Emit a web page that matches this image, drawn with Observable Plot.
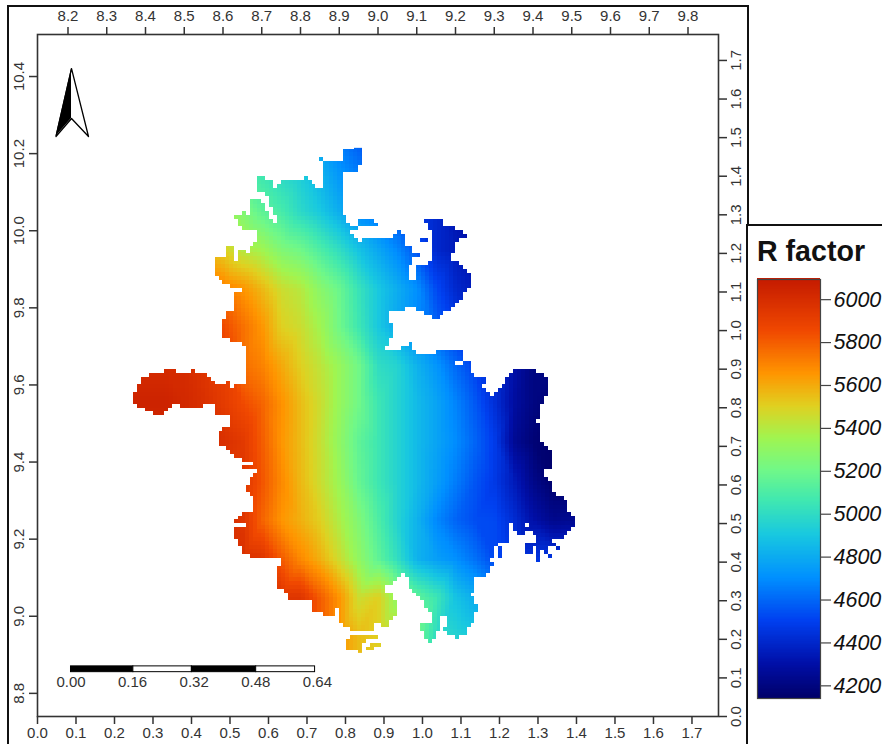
<!DOCTYPE html>
<html><head><meta charset="utf-8">
<script src="https://cdn.jsdelivr.net/npm/d3@7"></script>
<script src="https://cdn.jsdelivr.net/npm/@observablehq/plot@0.6"></script>
<style>
html,body{margin:0;padding:0;background:#fff}
#wrap{position:relative;width:882px;height:744px;overflow:hidden;font-family:"Liberation Sans",Arial,sans-serif}
#wrap svg{position:absolute;left:0;top:0;background:transparent}
.ln{position:absolute;background:#111}
</style></head><body>
<div id="wrap">
<div id="title" style="position:absolute;left:757px;top:234px;font-size:28.6px;font-weight:bold;color:#111;line-height:34px;z-index:3">R factor</div>
<div class="ln" style="left:7px;top:5px;width:740px;height:2px"></div>
<div class="ln" style="left:7px;top:5px;width:2px;height:739px"></div>
<div class="ln" style="left:747px;top:5px;width:1.5px;height:219px"></div>
<div class="ln" style="left:746px;top:224px;width:1.5px;height:520px"></div>
<div class="ln" style="left:746px;top:224px;width:136px;height:1.5px"></div>
</div>
<script>
// ---- chart extent (degrees) ----
const lonLeft = 8.1213, lonRight = 9.8787, latBottom = 8.740, latTop = 10.509;

// ---- axes ----
const topTicks = [8.2,8.3,8.4,8.5,8.6,8.7,8.8,8.9,9.0,9.1,9.2,9.3,9.4,9.5,9.6,9.7,9.8];
const leftTicks = [8.8,9.0,9.2,9.4,9.6,9.8,10.0,10.2,10.4];
const bottomTicks = [0,0.1,0.2,0.3,0.4,0.5,0.6,0.7,0.8,0.9,1.0,1.1,1.2,1.3,1.4,1.5,1.6,1.7];
const rightTicks = [0,0.1,0.2,0.3,0.4,0.5,0.6,0.7,0.8,0.9,1.0,1.1,1.2,1.3,1.4,1.5,1.6,1.7];
const kmX = 0.9935, kmY = 1.001;   // axis distance units to degrees

// ---- R factor colour ramp ----
const rampValues = [4141,4300,4500,4700,4900,5060,5200,5350,5500,5650,5850,6094];
const rampColors = ["#00006a","#000fa8","#0040f0","#0090ff","#18c8e0","#40e8b0","#70f888","#a0f550","#e0d020","#ff9500","#f04800","#c41a00"];
const legendTicks = [4200,4400,4600,4800,5000,5200,5400,5600,5800,6000];

// ---- R factor samples ----
const sampleLons = [8.35,8.40,8.45,8.50,8.55,8.60,8.65,8.70,8.75,8.80,8.85,8.90,8.95,9.00,9.05,9.10,9.15,9.20,9.25,9.30,9.35,9.40,9.45,9.50,9.55];
const sampleLats = [10.25,10.15,10.05,9.95,9.85,9.75,9.65,9.55,9.45,9.35,9.25,9.15,9.05,8.95,8.85];
const rLat1025 = [5300,5300,5300,5250,5200,5150,5100,5050,5000,4920,4780,4640,4550,4500,4450,4400,4350,4300,4300,4300,4300,4300,4300,4300,4300];
const rLat1015 = [5350,5350,5300,5300,5250,5200,5100,5050,4980,4920,4820,4720,4650,4560,4480,4420,4380,4350,4300,4300,4300,4300,4300,4300,4300];
const rLat1005 = [5500,5500,5450,5450,5400,5350,5250,5150,5080,4980,4900,4800,4680,4620,4550,4480,4400,4320,4300,4300,4300,4300,4300,4300,4300];
const rLat995  = [5650,5650,5600,5600,5550,5500,5400,5350,5250,5200,5100,5000,4880,4780,4680,4550,4400,4350,4300,4250,4250,4250,4250,4250,4250];
const rLat985  = [5800,5800,5800,5750,5750,5700,5650,5560,5450,5400,5280,5180,5030,4900,4800,4700,4520,4400,4350,4300,4250,4250,4250,4250,4250];
const rLat975  = [5950,5950,5900,5900,5880,5850,5750,5650,5500,5450,5350,5200,5050,4900,4780,4680,4580,4480,4400,4350,4300,4250,4200,4200,4200];
const rLat965  = [6000,6000,6000,6000,5950,5900,5750,5700,5600,5500,5420,5320,5200,5000,4950,4820,4720,4600,4500,4400,4300,4200,4200,4150,4150];
const rLat955  = [6050,6050,6050,6020,5980,5920,5850,5780,5660,5550,5450,5320,5200,5050,4950,4850,4770,4670,4560,4430,4280,4200,4160,4150,4150];
const rLat945  = [6000,6000,6000,6000,6000,5980,5930,5800,5650,5550,5440,5300,5150,5050,4950,4850,4770,4690,4590,4480,4250,4170,4150,4150,4150];
const rLat935  = [6000,6000,6000,6000,6000,5950,5950,5820,5680,5560,5450,5330,5170,5050,4950,4850,4750,4650,4550,4470,4350,4220,4150,4150,4150];
const rLat925  = [6000,6000,6000,6000,6000,6000,5950,5780,5650,5580,5500,5380,5250,5100,4950,4820,4680,4590,4530,4520,4420,4300,4230,4240,4250];
const rLat915  = [6000,6000,6000,6000,6000,6000,5980,5950,5800,5680,5580,5450,5300,5150,5000,4820,4750,4700,4620,4520,4450,4450,4450,4450,4450];
const rLat905  = [6000,6000,6000,6000,6000,6000,6000,6000,5950,5950,5800,5650,5450,5500,5300,5150,5050,4880,4800,4700,4700,4700,4700,4700,4700];
const rLat895  = [6000,6000,6000,6000,6000,6000,6000,6000,6000,5950,5800,5650,5550,5500,5450,5200,5000,4950,4900,4900,4900,4900,4900,4900,4900];
const rLat885  = [6000,6000,6000,6000,6000,6000,6000,6000,6000,5950,5800,5650,5550,5500,5450,5200,5000,4950,4900,4900,4900,4900,4900,4900,4900];
const sampleRows = [rLat1025,rLat1015,rLat1005,rLat995,rLat985,rLat975,rLat965,rLat955,rLat945,rLat935,rLat925,rLat915,rLat905,rLat895,rLat885];

// ---- land cells per row: [lat*100, lonStart*100, lonEnd*100, lonStart*100, lonEnd*100, ...] ----
const landRows = [
[1021,894,896],[1020,891,896],[1019,891,896],[1018,885,886,891,896],[1017,886,896],[1016,886,895],[1015,886,895],[1014,886,891],
[1013,869,871,881,882,886,891],[1012,869,873,875,883,886,891],[1011,869,873,874,884,886,891],[1010,869,891],[1009,871,891],[1008,872,891],
[1007,867,870,872,891],[1006,867,871,872,891],[1005,867,871,873,891],[1004,865,866,867,872,873,891],[1003,863,872,874,892],
[1002,864,873,874,892,895,899,912,917],[1001,864,893,895,900,913,917],[1000,865,895,913,920],[999,869,893,905,906,914,922],
[998,869,894,904,907,914,923],[997,869,895,896,907,911,913,914,921],[996,868,907,914,920],[995,861,863,867,909,914,920],
[994,861,863,864,866,867,909,914,920],[993,861,863,864,911,914,919],[992,858,863,864,909,914,919],[991,858,909,913,921],
[990,858,908,910,922],[989,858,908,910,923],[988,858,908,910,924],[987,859,908,910,924],[986,860,924],[985,862,924],[984,865,923],
[983,863,922],[982,863,922],[981,863,921],[980,863,920],[979,863,907,910,919],[978,861,903,912,917],[977,861,903,914,916],
[976,860,903],[975,860,904],[974,860,904],[973,860,904],[972,860,904],[971,862,903],[970,865,903,908,909],[969,866,902,906,909],
[968,866,910,915,922],[967,866,922],[966,866,922],[965,866,920,922,924],[964,866,924],[963,845,848,852,853,866,924,935,941],
[962,841,856,866,925,934,943],[961,839,857,866,928,933,944],[960,839,858,861,862,866,928,933,944],[959,838,862,863,927,932,944],
[958,838,928,931,944],[957,837,929,930,944],[956,837,943],[955,837,943],[954,838,847,849,855,858,942],[953,840,846,858,942],
[952,842,845,858,942],[951,862,942],[950,862,941],[949,862,942],[948,860,942],[947,859,942],[946,859,942],[945,859,942],[944,859,943],
[943,861,944],[942,862,945],[941,863,945],[940,865,945],[939,868,945],[938,865,945],[937,869,943],[936,868,943],[935,867,944],
[934,867,945],[933,866,945],[932,866,945],[931,867,946],[930,868,948],[929,868,949],[928,868,949],[927,868,949],[926,865,950],
[925,864,951],[924,863,951],[923,866,934,935,938,939,951],[922,863,934,935,950],[921,863,934,936,938,940,949],[920,863,934,941,948],
[919,864,934,941,945],[918,864,931,938,946],[917,865,930,931,932,938,940,941,944,946,947],[916,865,930,931,932,938,940,941,942,943,944],
[915,867,930,931,932,941,942,944,945],[914,875,929,941,942],[913,875,930],[912,874,929],[911,874,929],[910,874,906,907,928],
[909,874,905,908,925],[908,874,904,908,925],[907,874,902,908,925],[906,876,902,909,925],[905,877,904,910,924],[904,877,904,911,925],
[903,883,905,912,925],[902,883,905,912,926],[901,883,889,890,905,913,926],[900,886,889,890,905,914,925],[899,890,904,914,916,918,925],
[898,890,903,914,916,918,925],[897,891,899,901,903,911,916,918,924],[896,893,899,911,916,917,923],[895,912,915,918,923],
[894,893,900,912,915,920,921],[893,892,897,913,914],[892,892,896,898,901],[891,892,896,897,899],[890,895,896]
];
const mapLonMin = 830, mapLonMax = 960;

// ---- scale bar (distance units on the lower axis) ----
const barStart = 0.087;
const barEdges = [0,0.162,0.314,0.481,0.634];
const barLabels = [0,0.16,0.32,0.48,0.64];

// ---- north arrow (degrees) ----
const arrowTip = [8.2091,10.4207], arrowLeft = [8.1690,10.2444], arrowCentre = [8.2091,10.2911], arrowRight = [8.2529,10.2444];

// ---- build tables ----
const samples = [];
sampleRows.forEach((row,i)=>row.forEach((v,j)=>samples.push({lon:sampleLons[j],lat:sampleLats[i],r:v})));
const water = [];
for (const [lat,...sp] of landRows) {
  let cur = mapLonMin;
  for (let i=0;i<sp.length;i+=2){ if (sp[i]>cur) water.push({lat,a:cur,b:sp[i]}); cur=sp[i+1]; }
  if (cur<mapLonMax) water.push({lat,a:cur,b:mapLonMax});
}
const toLon = d => lonLeft + d*kmX, toLat = d => latBottom + d*kmY;
const barSegs = barEdges.slice(0,-1).map((e,i)=>({a:toLon(barStart+e),b:toLon(barStart+barEdges[i+1]),k:i%2}));
const barY = [8.870,8.855], barLabelY = 8.828;
const textC = "#333", fs = 15;

const colorOpt = {type:"linear",domain:rampValues,range:rampColors,clamp:true};
const main = Plot.plot({
  width:882,height:744,marginLeft:37,marginRight:164,marginTop:34,marginBottom:28,
  style:{fontFamily:"Liberation Sans, Arial, sans-serif",background:"transparent",color:textC},
  x:{domain:[lonLeft,lonRight]},y:{domain:[latBottom,latTop]},color:colorOpt,
  marks:[
    Plot.raster(samples,{x:"lon",y:"lat",fill:"r",interpolate:"barycentric",pixelSize:4,
      x1:8.305,x2:9.595,y1:8.905,y2:10.215,imageRendering:"pixelated"}),
    Plot.rect(water,{x1:d=>d.a/100,x2:d=>d.b/100,y1:d=>d.lat/100,y2:d=>(d.lat+1)/100,fill:"white",shapeRendering:"crispEdges"}),
    Plot.frame({stroke:"#333",strokeWidth:1.6}),
    Plot.axisX({anchor:"top",ticks:topTicks,tickSize:8,tickPadding:6,tickFormat:d3.format(".1f"),label:null,fontSize:fs,strokeWidth:1.5}),
    Plot.axisX({anchor:"bottom",ticks:bottomTicks.map(toLon),tickSize:8,tickPadding:3,tickFormat:d=>((d-lonLeft)/kmX).toFixed(1),label:null,fontSize:fs,strokeWidth:1.5}),
    Plot.axisY({anchor:"left",ticks:leftTicks,tickSize:8,tickPadding:6,tickRotate:-90,tickFormat:d3.format(".1f"),label:null,fontSize:fs,strokeWidth:1.5}),
    Plot.axisY({anchor:"right",ticks:rightTicks.map(toLat),tickSize:8,tickPadding:14,tickRotate:-90,tickFormat:d=>((d-latBottom)/kmY).toFixed(1),label:null,fontSize:fs,strokeWidth:1.5}),
    Plot.rect(barSegs,{x1:"a",x2:"b",y1:()=>barY[1],y2:()=>barY[0],fill:d=>d.k?"white":"black",stroke:"black",strokeWidth:1}),
    Plot.text(barLabels,{x:d=>toLon(barStart+d),y:()=>barLabelY,text:d=>d.toFixed(2),fontSize:fs,fill:textC}),
    Plot.area([arrowLeft,arrowCentre],{x1:d=>d[0],y1:(d,i)=>i?arrowCentre[1]:arrowLeft[1],y2:(d,i)=>i?arrowTip[1]:arrowLeft[1],fill:"black"}),
    Plot.line([arrowTip,arrowRight,arrowCentre,arrowLeft,arrowTip],{x:d=>d[0],y:d=>d[1],stroke:"black",strokeWidth:1.3})
  ]
});
document.getElementById("wrap").appendChild(main);

const ramp = d3.range(4141,6094,6).map(v=>({a:v,b:v+6}));
const leg = Plot.plot({
  width:135,height:520,marginLeft:10,marginRight:62,marginTop:55,marginBottom:46,
  style:{fontFamily:"Liberation Sans, Arial, sans-serif",background:"transparent",color:"#111"},
  x:{domain:[0,1],axis:null},y:{domain:[4141,6094]},color:colorOpt,
  marks:[
    Plot.rect(ramp,{x1:()=>0,x2:()=>1,y1:"a",y2:"b",fill:"a",shapeRendering:"crispEdges"}),
    Plot.frame({stroke:"#444",strokeWidth:1.2}),
    Plot.axisY({anchor:"right",ticks:legendTicks,tickSize:10,tickPadding:3,label:null,tickFormat:d=>String(d),fontSize:21.5,fontStyle:"italic",stroke:"#444",strokeWidth:1.2})
  ]
});
leg.style.left="747px";leg.style.top="224px";
document.getElementById("wrap").appendChild(leg);
</script>
</body></html>
